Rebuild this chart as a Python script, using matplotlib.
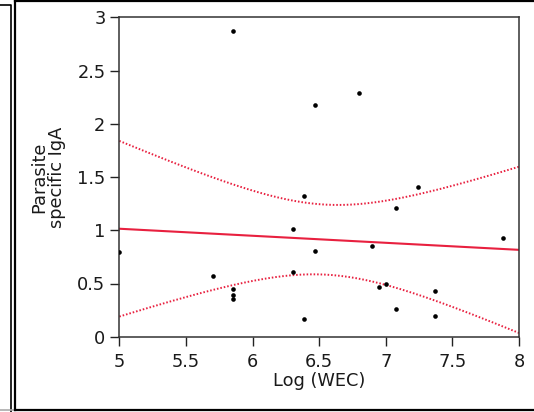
import numpy as np
import matplotlib
matplotlib.use("Agg")
import matplotlib.pyplot as plt
from matplotlib.lines import Line2D

# log(WEC) and parasite-specific IgA for each sample
log_wec = [5.00, 5.70, 5.85, 5.85, 5.85, 5.85, 6.30, 6.30, 6.39, 6.39, 6.47,
           6.47, 6.80, 6.90, 6.95, 7.00, 7.08, 7.08, 7.24, 7.37, 7.37, 7.88]
iga = [0.80, 0.57, 0.45, 0.39, 0.35, 2.87, 1.01, 0.61, 1.32, 0.17, 0.81,
       2.18, 2.29, 0.85, 0.47, 0.50, 1.21, 0.26, 1.41, 0.43, 0.19, 0.93]

x_ticks = [5, 5.5, 6, 6.5, 7, 7.5, 8]
y_ticks = [0, 0.5, 1, 1.5, 2, 2.5, 3]
x_tick_labels = ["5", "5.5", "6", "6.5", "7", "7.5", "8"]
y_tick_labels = ["0", "0.5", "1", "1.5", "2", "2.5", "3"]

x = np.array(log_wec)
y = np.array(iga)
n = len(x)

# least squares fit with 95% confidence band for the mean
slope, intercept = np.polyfit(x, y, 1)
resid = y - (slope * x + intercept)
s = np.sqrt(np.sum(resid ** 2) / (n - 2))
t_crit = 2.086  # t(0.975, df=20)
xs = np.linspace(5, 8, 200)
fit = slope * xs + intercept
half = t_crit * s * np.sqrt(1 / n + (xs - x.mean()) ** 2 / np.sum((x - x.mean()) ** 2))

plt.rcParams['font.family'] = ['DejaVu Sans']

W, H = 534, 412
fig = plt.figure(figsize=(W / 100, H / 100), dpi=100)
ax = fig.add_axes([119.3 / W, 1 - 336.7 / H, 399.7 / W, 319.2 / H])

red = '#e8203f'
ax.plot(xs, fit, color=red, lw=1.5)
ax.plot(xs, fit + half, color=red, lw=1.4, ls=(0, (0.8, 1.0)))
ax.plot(xs, fit - half, color=red, lw=1.4, ls=(0, (0.8, 1.0)))
ax.scatter(x, y, s=11, color='black', zorder=3, linewidths=0)

ax.set_xlim(5, 8)
ax.set_ylim(0, 3)
ax.set_xticks(x_ticks)
ax.set_xticklabels(x_tick_labels)
ax.set_yticks(y_ticks)
ax.set_yticklabels(y_tick_labels)
ax.tick_params(length=6.5, width=1, labelsize=12.8, pad=3.5, color='#222222',
               labelcolor='#1a1a1a')
ax.tick_params(axis='x', pad=5)
for side, sp in ax.spines.items():
    sp.set_linewidth(1.1)
    sp.set_color('#333333')

ax.set_xlabel('Log (WEC)', fontsize=12.8, labelpad=1, color='#1a1a1a')
ax.set_ylabel('Parasite\nspecific IgA', fontsize=12.8, labelpad=8,
              linespacing=1.0, color='#1a1a1a')

# panel borders
def px_line(xa, ya, lw, color='black'):
    fig.add_artist(Line2D([v / W for v in xa], [1 - v / H for v in ya],
                          lw=lw, color=color, transform=fig.transFigure))

px_line([0, 10.5, 10.5], [5, 5, 412], 1.2)
px_line([15, 15], [1, 410], 1.6)
px_line([15, 534], [1, 1], 1.6)
px_line([0, 15], [410, 410], 1.2, '#aaaaaa')
px_line([15, 534], [410, 410], 1.6)

fig.savefig('out.png', dpi=100)
